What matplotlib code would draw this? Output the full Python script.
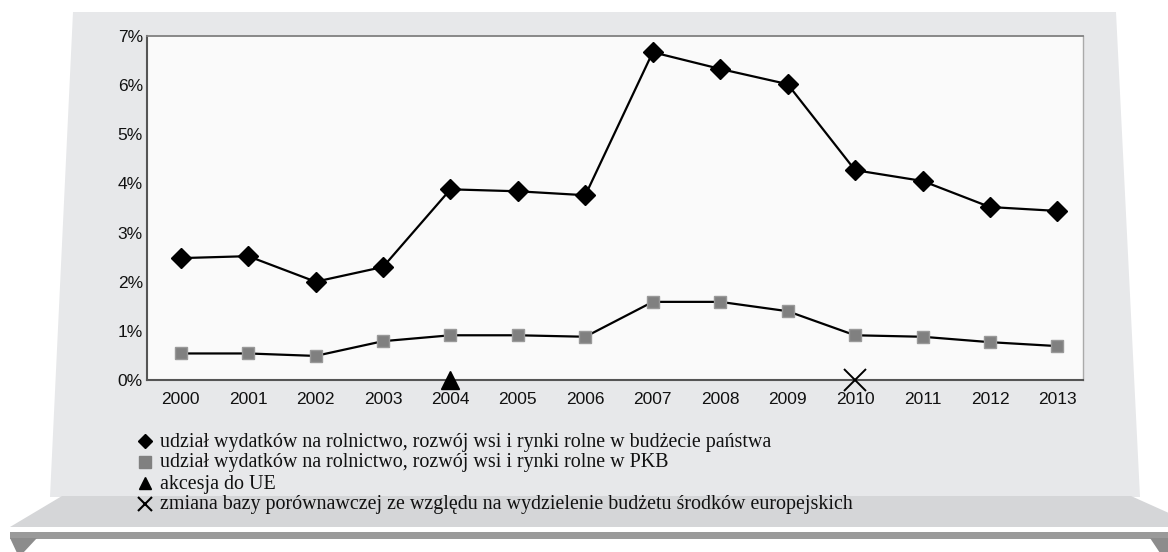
import matplotlib
matplotlib.use("Agg")
import matplotlib.pyplot as plt
from matplotlib.patches import Polygon, Rectangle
from matplotlib.ticker import FuncFormatter

years = ["2000", "2001", "2002", "2003", "2004", "2005", "2006",
         "2007", "2008", "2009", "2010", "2011", "2012", "2013"]
budget_share = [2.48, 2.52, 2.00, 2.30, 3.88, 3.84, 3.76,
                6.67, 6.33, 6.02, 4.27, 4.05, 3.52, 3.44]
gdp_share = [0.54, 0.54, 0.49, 0.79, 0.91, 0.91, 0.88,
             1.59, 1.59, 1.40, 0.91, 0.88, 0.77, 0.69]
accession_year = "2004"
base_change_year = "2010"
yticks = [0, 1, 2, 3, 4, 5, 6, 7]
legend_labels = [
    "udział wydatków na rolnictwo, rozwój wsi i rynki rolne w budżecie państwa",
    "udział wydatków na rolnictwo, rozwój wsi i rynki rolne w PKB",
    "akcesja do UE",
    "zmiana bazy porównawczej ze względu na wydzielenie budżetu środków europejskich",
]

W, H = 1168, 552
fig = plt.figure(figsize=(W / 100, H / 100), dpi=100)
fig.patch.set_facecolor("white")

# decorative background in pixel coordinates
bg = fig.add_axes([0, 0, 1, 1])
bg.set_xlim(0, W)
bg.set_ylim(H, 0)
bg.axis("off")
bg.add_patch(Polygon([(73, 12), (1116, 12), (1140, 497), (50, 497)],
                     closed=True, facecolor="#e7e8ea", edgecolor="none"))
bg.add_patch(Polygon([(62, 496), (1131, 496), (1200, 527), (10, 527)],
                     closed=True, facecolor="#d5d6d8", edgecolor="none"))
bg.add_patch(Rectangle((10, 532), 1170, 6.5, facecolor="#9a9a9a", edgecolor="none"))
bg.add_patch(Polygon([(10, 538), (37, 538), (23, 553), (17, 553)],
                     closed=True, facecolor="#8c8c8c", edgecolor="none"))
bg.add_patch(Polygon([(1150, 538), (1170, 538), (1170, 553), (1160, 553)],
                     closed=True, facecolor="#8c8c8c", edgecolor="none"))

# legend (pixel coordinates)
leg_y = [441, 462, 483, 504]
leg_markers = [dict(marker="D", color="black", ms=7),
               dict(marker="s", color="#808080", ms=8),
               dict(marker="^", color="black", ms=8),
               dict(marker="x", color="black", ms=10, mew=1.5)]
for yy, m, lab in zip(leg_y, leg_markers, legend_labels):
    bg.plot([145], [yy], linestyle="none", marker=m["marker"], color=m["color"],
            ms=m["ms"], mew=m.get("mew", 1))
    bg.text(160, yy + 1, lab, fontsize=14.4, family=["Liberation Serif", "DejaVu Serif"],
            va="center", ha="left", color="#111111")

# main chart
ax = fig.add_axes([147 / W, 1 - 380 / H, 936 / W, 344 / H])
ax.set_facecolor("#fafafa")
x = list(range(len(years)))
ax.plot(x, budget_share, color="black", lw=1.6, marker="D", ms=10,
        markerfacecolor="black", markeredgecolor="black", zorder=3)
ax.plot(x, gdp_share, color="black", lw=1.6, marker="s", ms=8.5,
        markerfacecolor="#808080", markeredgecolor="#999999", zorder=3)
ax.plot([years.index(accession_year)], [0], marker="^", ms=12.5, color="black",
        linestyle="none", clip_on=False, zorder=4)
ax.plot([years.index(base_change_year)], [0], marker="x", ms=16.5, mew=1.4,
        color="black", linestyle="none", clip_on=False, zorder=4)

ax.set_xlim(-0.5, len(years) - 1 + 0.38)
ax.set_ylim(0, 7)
ax.set_xticks(x)
ax.set_xticklabels(years)
ax.set_yticks(yticks)
ax.yaxis.set_major_formatter(FuncFormatter(lambda v, p: f"{int(v)}%"))
ax.tick_params(axis="both", length=0, labelsize=12.5, colors="#111111")
ax.tick_params(axis="x", pad=8.5)
ax.tick_params(axis="y", pad=3)
for lab in ax.get_xticklabels() + ax.get_yticklabels():
    lab.set_family(["Liberation Sans", "DejaVu Sans"])
ax.spines["left"].set_color("#555555")
ax.spines["bottom"].set_color("#555555")
ax.spines["left"].set_linewidth(1.5)
ax.spines["bottom"].set_linewidth(1.5)
ax.spines["top"].set_color("#808080")
ax.spines["top"].set_linewidth(1.3)
ax.spines["right"].set_color("#aaaaaa")
ax.spines["right"].set_linewidth(1.0)

fig.savefig("out.png", dpi=100)
